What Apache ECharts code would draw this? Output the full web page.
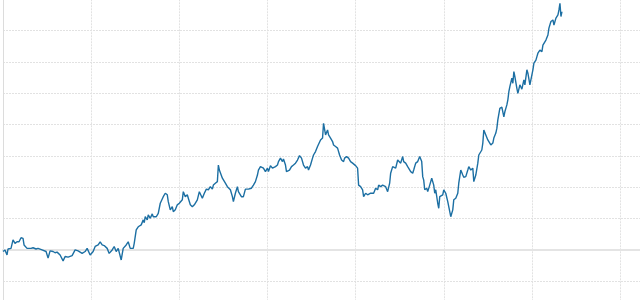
<!DOCTYPE html>
<html>
<head>
<meta charset="utf-8">
<style>
html,body{margin:0;padding:0;background:#fff;}
#chart{width:640px;height:300px;}
</style>
<script src="https://cdn.jsdelivr.net/npm/echarts@6/dist/echarts.min.js"></script>
</head>
<body>
<div id="chart"></div>
<script>
// trading-day index
var days = [0,2,4,5,8,10,12,14,16,18,20,21,24,25,28,30,33,35,39,40,43,45,47,50,52,54,57,60,62,65,69,72,75,79,82,84,87,90,92,95,97,99,101,104,106,109,111,113,115,118,
120,123,125,127,130,131,133,135,138,140,141,142,144,145,147,149,150,153,155,157,160,162,164,165,167,169,170,172,174,176,179,180,182,184,185,187,189,191,194,196,199,201,203,205,207,209,210,212,214,215,216,217,219,220,222,224,225,227,229,230,232,234,235,238,240,242,245,248,
250,252,254,255,257,260,262,264,265,267,269,270,272,274,275,277,279,280,282,283,284,286,288,290,292,294,296,298,300,302,304,305,307,309,310,312,314,315,317,319,320,321,322,324,325,327,329,330,332,334,336,338,340,341,343,345,347,349,350,352,354,355,356,357,359,360,362,364,367,370,372,374,375,377,379,380,382,384,386,
387,389,390,392,394,395,397,399,400,402,404,405,407,409,410,412,414,416,418,419,420,421,423,424,426,428,429,430,431,432,434,435,436,439,440,442,444,445,447,449,450,452,454,455,457,459,460,462,464,465,467,469,470,472,474,475,476,478,479,480,482,484,485,487,489,490,492,
493,494,496,498,500,501,503,504,505,506,508,509,510,511,513,514,516,518,520,521,523,524,526,527,529,530,532,533,534,535,536,538,539,540,542,544,545,547,549,550,552,554,555,556,557,558];
// cumulative return (%)
var returns = [-0.5,0.0,-1.6,0.3,0.5,3.2,2.1,2.6,2.6,3.9,3.7,1.6,0.5,1.1,0.5,0.7,0.3,0.5,0.0,0.3,-0.5,-2.6,-0.3,-0.5,-0.9,-0.7,-1.6,-3.5,-2.1,-2.3,-1.8,0.0,-0.3,-1.1,-0.5,0.5,-1.6,-0.5,1.1,1.6,2.6,1.6,1.4,0.5,-1.1,0.0,1.1,-0.5,0.5,-3.2,
0.5,1.6,2.6,0.5,0.5,2.1,6.4,7.4,8.0,9.6,8.7,10.6,9.6,11.2,10.1,11.5,10.6,10.6,11.7,14.9,17.0,18.1,17.6,15.4,12.8,13.8,12.2,12.8,14.4,14.9,16.0,18.6,17.0,17.6,16.5,14.4,13.8,14.4,16.0,18.6,16.5,18.1,19.4,19.2,20.2,19.4,20.7,21.3,21.8,27.1,25.5,26.1,22.9,23.4,21.3,20.2,20.7,19.2,17.0,15.4,18.1,20.2,18.6,17.0,17.0,19.4,19.4,19.7,
20.7,21.8,23.9,25.5,26.6,26.1,25.0,26.1,25.0,26.9,26.1,25.5,26.6,27.1,28.2,29.3,28.2,29.0,27.1,25.0,24.5,25.5,26.6,27.1,27.7,28.7,30.1,29.3,27.1,26.1,26.6,25.5,27.1,29.3,30.3,31.4,33.0,32.5,35.1,35.7,40.4,39.9,36.7,38.3,36.7,35.7,34.6,33.5,33.0,32.5,30.3,28.7,28.2,29.3,29.8,29.3,28.2,27.7,27.7,26.9,26.1,20.7,21.3,20.2,19.2,17.0,18.1,17.6,18.1,18.1,19.7,19.2,20.7,20.2,20.7,21.3,20.2,18.6,21.3,
24.5,26.6,27.1,26.1,28.7,29.3,27.7,29.8,28.2,27.7,26.6,27.1,25.0,24.5,25.5,27.7,28.2,29.8,28.2,23.4,22.3,19.2,19.7,18.6,20.7,22.9,23.4,20.7,18.1,19.2,14.9,13.3,17.0,17.6,19.2,18.1,15.4,13.8,10.6,12.8,16.0,16.5,18.1,21.3,25.5,23.9,23.2,23.4,25.5,26.6,25.5,26.1,21.8,23.9,27.7,30.3,29.8,31.9,34.1,38.3,36.7,35.1,35.7,33.5,34.1,35.7,37.3,
38.8,41.5,45.2,45.6,42.5,44.1,46.3,47.9,50.5,52.1,54.8,53.2,56.9,55.3,51.6,50.0,52.7,51.3,54.3,52.7,57.5,56.4,52.7,53.2,57.5,59.6,60.6,61.7,62.8,62.2,63.8,63.3,65.4,64.9,67.0,68.6,70.8,72.9,73.4,71.8,74.0,75.0,76.6,78.7,74.5,76.1];

var seriesData = days.map(function (d, i) { return [d, returns[i]]; });

var chart = echarts.init(document.getElementById('chart'), null, {renderer: 'canvas'});
chart.setOption({
  animation: false,
  backgroundColor: '#ffffff',
  grid: {left: 3, top: -0.7, width: 705.2, height: 313.3, containLabel: false, outerBoundsMode: 'none'},
  xAxis: {
    type: 'value', min: 0, max: 704, interval: 88,
    axisLine: {show: true, onZero: true, lineStyle: {color: '#e4e4e4', width: 2}},
    axisTick: {show: false},
    axisLabel: {show: false},
    splitLine: {show: true, lineStyle: {color: '#e2e2e2', width: 1, type: [2, 1]}}
  },
  yAxis: {
    type: 'value', min: -20, max: 80, interval: 10,
    axisLine: {show: true, lineStyle: {color: '#dcdcdc', width: 1}},
    axisTick: {show: false},
    axisLabel: {show: false},
    splitLine: {show: true, lineStyle: {color: '#e2e2e2', width: 1, type: [2, 1]}}
  },
  series: [{
    type: 'line',
    data: seriesData,
    showSymbol: false,
    smooth: false,
    lineStyle: {color: '#1c6fa3', width: 1.4},
    itemStyle: {color: '#1c6fa3'}
  }]
});
</script>
</body>
</html>
